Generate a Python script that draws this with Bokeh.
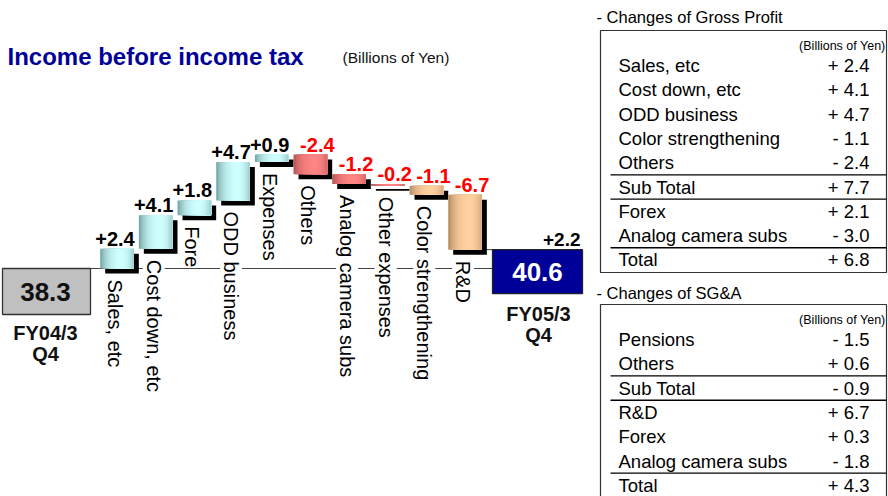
import numpy as np
from bokeh.plotting import figure
from bokeh.models import Range1d, ColumnDataSource
from bokeh.core.properties import value
from bokeh.embed import file_html
from bokeh.resources import INLINE

# ---------------- data ----------------
title = "Income before income tax"
unit_label = "(Billions of Yen)"
start_value = 38.3
end_value = 40.6
start_period = ["FY04/3", "Q4"]
end_period = ["FY05/3", "Q4"]
total_change_label = "+2.2"

categories = ["Sales, etc", "Cost down, etc", "Fore", "ODD business", "Expenses",
              "Others", "Analog camera subs", "Other expenses", "Color strengthening", "R&D"]
deltas = [2.4, 4.1, 1.8, 4.7, 0.9, -2.4, -1.2, -0.2, -1.1, -6.7]
bar_tone = ["cyan", "cyan", "cyan", "cyan", "cyan", "red", "red", "red", "tan", "tan"]

gp_title = "- Changes of Gross Profit"
gp_items = ["Sales, etc", "Cost down, etc", "ODD business", "Color strengthening", "Others",
            "Sub Total", "Forex", "Analog camera subs", "Total"]
gp_values = ["+ 2.4", "+ 4.1", "+ 4.7", "- 1.1", "- 2.4", "+ 7.7", "+ 2.1", "- 3.0", "+ 6.8"]
gp_rules_after = [4, 5, 7]

sga_title = "- Changes of SG&A"
sga_items = ["Pensions", "Others", "Sub Total", "R&D", "Forex", "Analog camera subs", "Total"]
sga_values = ["- 1.5", "+ 0.6", "- 0.9", "+ 6.7", "+ 0.3", "- 1.8", "+ 4.3"]
sga_rules_after = [1, 2, 5]

# ---------------- layout / style ----------------
FONT = value("Liberation Sans")
NAVY = "#000099"
PW, PH = 888, 496
SLOT0_PX = 116.5      # x of first bar centre
SLOT_PX = 38.67       # px per bar slot
BASE_PX = 268.0       # y of the start value level
K = 8.2               # px per billion yen
BAR_W = 0.87
SHADOW = 5.0
TONES = {
    "cyan": ((104, 150, 150), (206, 255, 255)),
    "red": ((168, 78, 78), (255, 132, 132)),
    "tan": ((168, 128, 90), (255, 208, 160)),
}

p = figure(width=PW, height=PH, x_range=Range1d(0, PW), y_range=Range1d(PH, 0),
           output_backend="svg", toolbar_location=None,
           x_axis_location=None, y_axis_location=None, min_border=0,
           outline_line_color=None, background_fill_color="white",
           border_fill_color="white")
p.xgrid.visible = False
p.ygrid.visible = False
p.extra_x_ranges = {"slot": Range1d((0 - SLOT0_PX) / SLOT_PX, (PW - SLOT0_PX) / SLOT_PX)}
p.extra_y_ranges = {"val": Range1d(start_value + (BASE_PX - PH) / K,
                                   start_value + (BASE_PX - 0) / K)}

# ---------------- waterfall ----------------
n = len(deltas)
idx = np.arange(n, dtype=float)
cum = start_value + np.cumsum(deltas)
prev = np.concatenate([[start_value], cum[:-1]])
top = np.maximum(prev, cum)
bot = np.minimum(prev, cum)

# baseline and connector
p.segment(x0=[90], x1=[492], y0=[start_value], y1=[start_value], y_range_name="val",
          line_color="#444444", line_width=1)
p.segment(x0=[481], x1=[492], y0=[end_value], y1=[end_value], y_range_name="val",
          line_color="#444444", line_width=1)

# shadows
dx = SHADOW / SLOT_PX
dy = SHADOW / K
p.quad(left=idx - BAR_W / 2 + dx, right=idx + BAR_W / 2 + dx, top=top - dy, bottom=bot - dy,
       x_range_name="slot", y_range_name="val", fill_color="black", line_color=None)

# cylinder-like bars, made of overlapping vertical strips
S = 16
sl, sr, st, sb, sc = [], [], [], [], []
for i in range(n):
    dark, light = TONES[bar_tone[i]]
    for j in range(S):
        t = (j + 0.5) / S
        pk = 0.62
        span = pk if t < pk else (1 - pk) * 1.25
        f = max(0.0, 1 - ((t - pk) / span) ** 2)
        f = f ** 0.7
        c = tuple(int(round(dark[k] + (light[k] - dark[k]) * f)) for k in range(3))
        l = i - BAR_W / 2 + j * BAR_W / S
        sl.append(l)
        sr.append(i + BAR_W / 2)
        st.append(top[i])
        sb.append(bot[i])
        sc.append("#%02x%02x%02x" % c)
p.quad(left=sl, right=sr, top=st, bottom=sb, fill_color=sc, line_color=None,
       x_range_name="slot", y_range_name="val")

# category labels (rotated)
p.text(x=idx, y=bot, text=categories, angle=-np.pi / 2, x_range_name="slot",
       y_range_name="val", text_align="left", text_baseline="middle",
       x_offset=-2, y_offset=11, text_font=FONT, text_font_size="20px",
       text_color="black", background_fill_color="white")

# value labels
pos = np.array(deltas) > 0
lab = ["%+.1f" % d for d in deltas]
src_pos = ColumnDataSource(dict(x=idx[pos], y=top[pos], t=[l for l, q in zip(lab, pos) if q]))
src_neg = ColumnDataSource(dict(x=idx[~pos], y=top[~pos], t=[l for l, q in zip(lab, pos) if not q]))
p.text(x="x", y="y", text="t", source=src_pos, x_range_name="slot", y_range_name="val",
       text_align="center", text_baseline="bottom", x_offset=-2, y_offset=-3,
       text_font=FONT, text_font_size="20px", text_font_style="bold", text_color="black")
p.text(x="x", y="y", text="t", source=src_neg, x_range_name="slot", y_range_name="val",
       text_align="center", text_baseline="bottom", x_offset=7, y_offset=-3,
       text_font=FONT, text_font_size="20px", text_font_style="bold", text_color="#ff0000")

# start / end boxes
p.quad(left=[2], right=[90], top=[start_value], bottom=[start_value - 46 / K],
       y_range_name="val", fill_color="#c0c0c0", line_color="#333333", line_width=1.3)
p.text(x=[45], y=[start_value - 23 / K], text=["%.1f" % start_value], y_range_name="val",
       text_align="center", text_baseline="middle", text_font=FONT,
       text_font_size="26px", text_font_style="bold", text_color="#111111")
p.quad(left=[492], right=[582], top=[end_value], bottom=[end_value - 44 / K],
       y_range_name="val", fill_color=NAVY, line_color="#222222", line_width=1.3)
p.text(x=[537], y=[end_value - 22 / K], text=["%.1f" % end_value], y_range_name="val",
       text_align="center", text_baseline="middle", text_font=FONT,
       text_font_size="26px", text_font_style="bold", text_color="white")
p.text(x=[580], y=[end_value], text=[total_change_label], y_range_name="val",
       text_align="right", text_baseline="bottom", y_offset=-4, text_font=FONT,
       text_font_size="19px", text_font_style="bold", text_color="black")

p.text(x=[45, 45], y=[332, 353], text=start_period, text_align="center",
       text_baseline="middle", text_font=FONT, text_font_size="20px",
       text_font_style="bold", text_color="#111111")
p.text(x=[538, 538], y=[313, 334], text=end_period, text_align="center",
       text_baseline="middle", text_font=FONT, text_font_size="20px",
       text_font_style="bold", text_color="#111111")

# title
p.text(x=[7], y=[56], text=[title], text_align="left", text_baseline="middle",
       text_font=FONT, text_font_size="24px", text_font_style="bold", text_color=NAVY)
p.text(x=[342], y=[57], text=[unit_label], text_align="left", text_baseline="middle",
       text_font=FONT, text_font_size="15.5px", text_color="#111111")

# ---------------- tables ----------------
def table(head, head_y, box_top, box_bottom, first_row, items, vals, rules):
    row_h = 24.3
    p.text(x=[596], y=[head_y], text=[head],
           text_align="left", text_baseline="middle", text_font=FONT,
           text_font_size="16.5px", text_color="black")
    p.quad(left=[600], right=[886], top=[box_top], bottom=[box_bottom],
           fill_color=None, line_color="#333333", line_width=1.2)
    p.text(x=[885], y=[box_top + 15], text=[unit_label], text_align="right",
           text_baseline="middle", text_font=FONT, text_font_size="12.5px",
           text_color="black")
    ys = [first_row + i * row_h for i in range(len(items))]
    p.text(x=[618] * len(items), y=ys, text=items, text_align="left",
           text_baseline="middle", text_font=FONT, text_font_size="18.5px",
           text_color="black")
    p.text(x=[869] * len(vals), y=ys, text=vals, text_align="right",
           text_baseline="middle", text_font=FONT, text_font_size="18.5px",
           text_color="black")
    ry = [ys[i] + row_h / 2 for i in rules]
    p.segment(x0=[610] * len(ry), x1=[886] * len(ry), y0=ry, y1=ry,
              line_color="black", line_width=1.3)

table(gp_title, 16, 30, 272, 65, gp_items, gp_values, gp_rules_after)
table(sga_title, 292, 304, 500, 339, sga_items, sga_values, sga_rules_after)

open("out.html", "w").write(file_html(p, INLINE))
